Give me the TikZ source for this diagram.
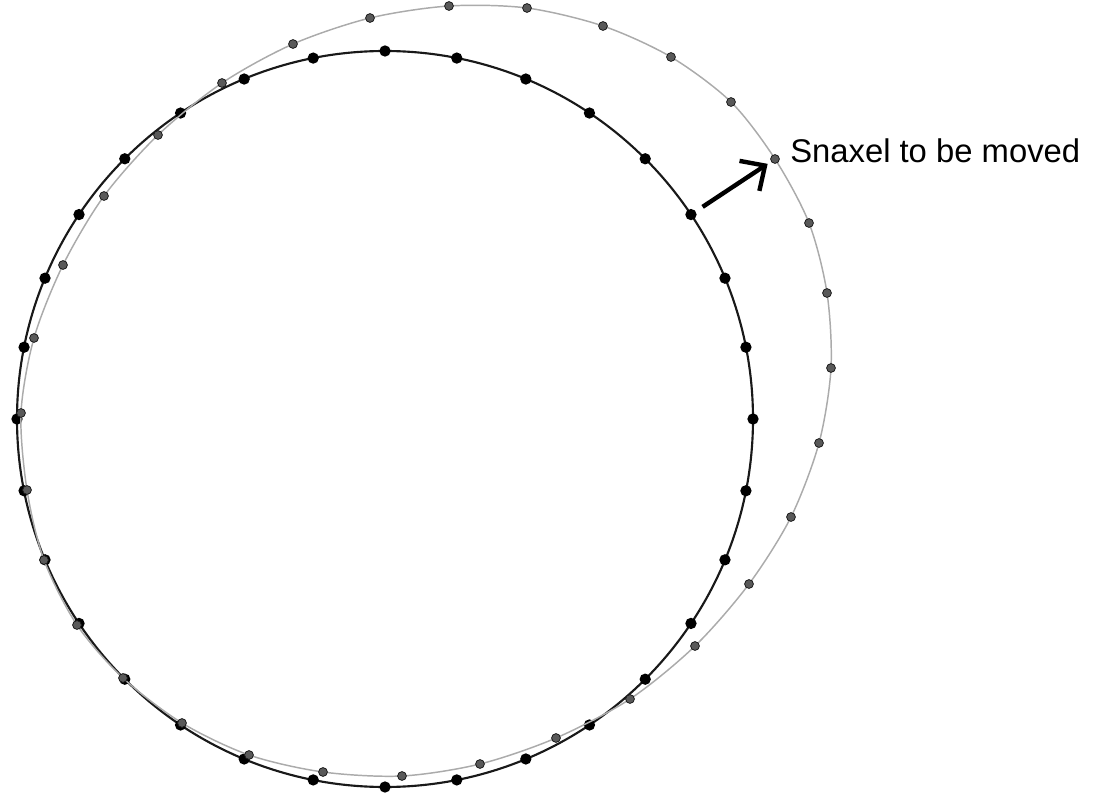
\documentclass[tikz,border=0pt]{standalone}
\usepackage{fontspec}
\setmainfont{Liberation Sans}
\usetikzlibrary{arrows.meta}
\begin{document}
\begin{tikzpicture}[x=0.75pt,y=-0.75pt,
  blackline/.style={draw=black!90,line width=1.6pt},
  grayline/.style={draw=black!33,line width=1.1pt},
  bdot/.style={circle,fill=black,inner sep=0pt,minimum size=8.5pt},
  gdot/.style={circle,fill=black!65,draw=black!90,line width=0.6pt,inner sep=0pt,minimum size=6.6pt},
  movearrow/.style={line width=3.3pt,-{Straight Barb[length=14pt,width=27pt,line width=3.3pt]}},
  label/.style={font=\fontsize{24.6}{29}\selectfont,inner sep=0pt,anchor=base west}]
\useasboundingbox (0,0) rectangle (1114,802);
% current contour (black)
\draw[blackline] (385,419) circle[radius=276pt];
\foreach \k in {0,...,31}
  \node[bdot] (b\k) at ({385+368*cos(90-11.25*\k)},{419-368*sin(90-11.25*\k)}) {};
% new contour (gray)
\foreach \px/\py [count=\i] in {370/18,449/6,527/8,603/26,671/57,731/102,775/159,809/223,
  827/293,831/368,819/443,791/517,749/584,695/646,630/699,556/738,
  480/764,402/776,323/772,249/755,182/723,123/678,77/625,44/560,
  27/490,21/413,34/338,63/265,104/196,158/135,222/83,293/44}
  \coordinate (gp\i) at (\px,\py);
\draw[grayline] plot[smooth cycle] coordinates {(gp1) (gp2) (gp3) (gp4) (gp5) (gp6) (gp7) (gp8)
  (gp9) (gp10) (gp11) (gp12) (gp13) (gp14) (gp15) (gp16) (gp17) (gp18) (gp19) (gp20)
  (gp21) (gp22) (gp23) (gp24) (gp25) (gp26) (gp27) (gp28) (gp29) (gp30) (gp31) (gp32)};
\foreach \i in {1,...,32}
  \node[gdot] (g\i) at (gp\i) {};
% arrow and label
\draw[movearrow,shorten <=6pt,shorten >=3pt] (b5) -- (g7);
\node[label] (lbl) at (790,163) {Snaxel to be moved};
\end{tikzpicture}
\end{document}
